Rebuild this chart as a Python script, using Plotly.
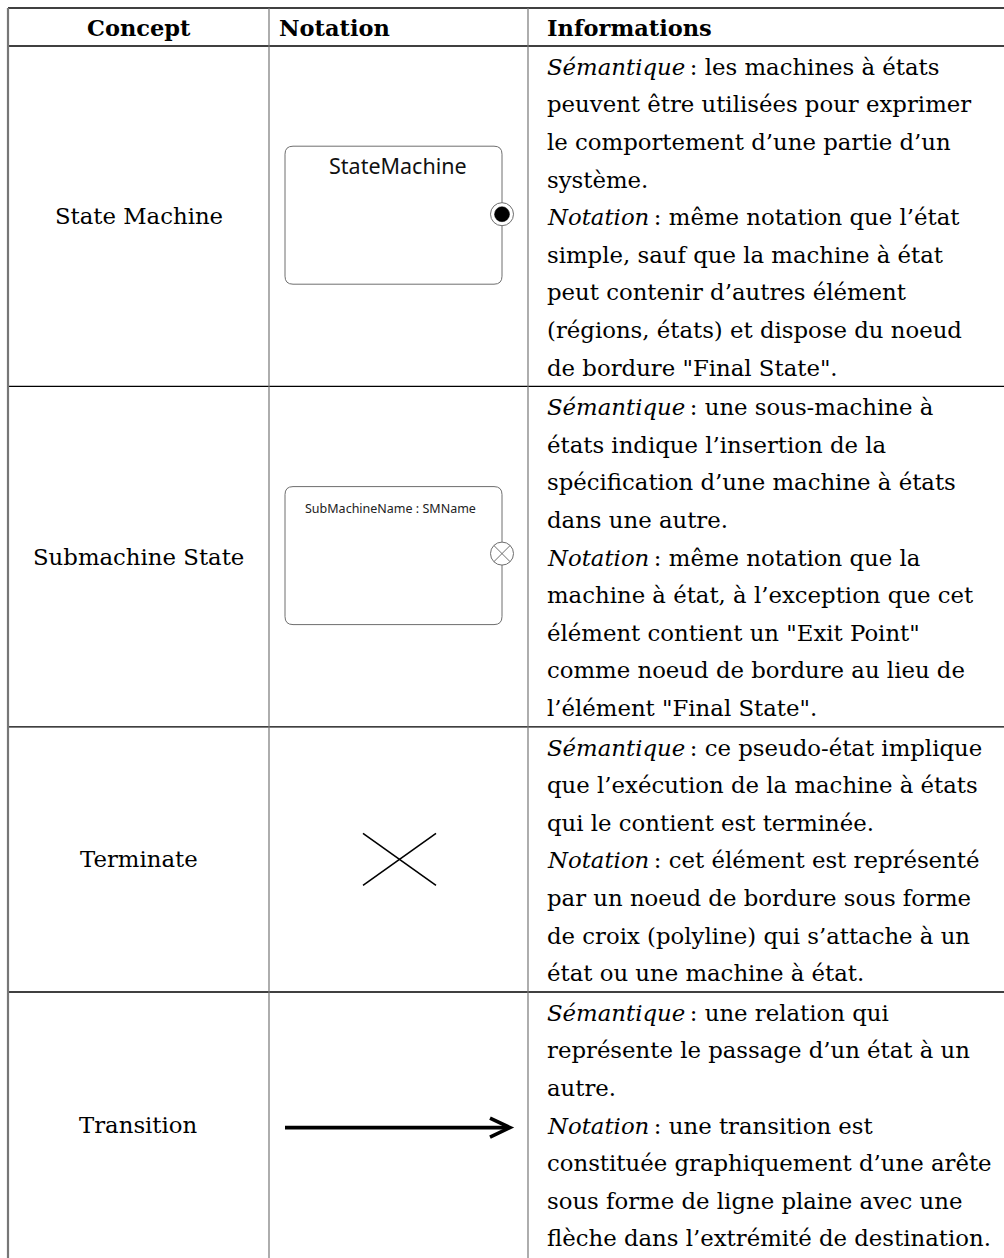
import plotly.graph_objects as go

# ---------------- data ----------------
headers = ["Concept", "Notation", "Informations"]
concepts = ["State Machine", "Submachine State", "Terminate", "Transition"]
notation_kinds = ["state_machine", "submachine", "terminate", "transition"]
notation_labels = ["StateMachine", "SubMachineName : SMName", "", ""]

info_row1 = [
    "<i>Sémantique</i>\u2009: les machines à états",
    "peuvent être utilisées pour exprimer",
    "le comportement d’une partie d’un",
    "système.",
    "<i>Notation</i>\u2009: même notation que l’état",
    "simple, sauf que la machine à état",
    "peut contenir d’autres élément",
    "(régions, états) et dispose du noeud",
    "de bordure \"Final State\".",
]
info_row2 = [
    "<i>Sémantique</i>\u2009: une sous-machine à",
    "états indique l’insertion de la",
    "spécification d’une machine à états",
    "dans une autre.",
    "<i>Notation</i>\u2009: même notation que la",
    "machine à état, à l’exception que cet",
    "élément contient un \"Exit Point\"",
    "comme noeud de bordure au lieu de",
    "l’élément \"Final State\".",
]
info_row3 = [
    "<i>Sémantique</i>\u2009: ce pseudo-état implique",
    "que l’exécution de la machine à états",
    "qui le contient est terminée.",
    "<i>Notation</i>\u2009: cet élément est représenté",
    "par un noeud de bordure sous forme",
    "de croix (polyline) qui s’attache à un",
    "état ou une machine à état.",
]
info_row4 = [
    "<i>Sémantique</i>\u2009: une relation qui",
    "représente le passage d’un état à un",
    "autre.",
    "<i>Notation</i>\u2009: une transition est",
    "constituée graphiquement d’une arête",
    "sous forme de ligne plaine avec une",
    "flèche dans l’extrémité de destination.",
]
info_rows = [info_row1, info_row2, info_row3, info_row4]

# ---------------- layout constants (page pixel coordinates) ----------------
W, H = 1004, 1258
X_LEFT, X_C1, X_C2, X_RIGHT = 8, 269, 528, 1004
Y_TOP, Y_HEAD = 8, 46
LINE_H, PAD = 37.6, 2
SERIF = "DejaVu Serif"
SANS = "Noto Sans"
FS = 22.8
FS_HEAD = 22.5

# row edges from line counts
edges = [Y_HEAD]
for lines in info_rows:
    edges.append(edges[-1] + len(lines) * LINE_H + PAD)

fig = go.Figure()
shapes = []
ann = []

def hline(y, color="black", w=1.3):
    shapes.append(dict(type="line", x0=X_LEFT, x1=X_RIGHT + 5, y0=y, y1=y,
                       line=dict(color=color, width=w), layer="above"))

def vline(x, y0, y1, color="#777", w=1.2):
    shapes.append(dict(type="line", x0=x, x1=x, y0=y0, y1=y1,
                       line=dict(color=color, width=w), layer="above"))

# table grid
hline(Y_TOP)
hline(Y_HEAD)
for e in edges[1:-1]:
    hline(e)
vline(X_LEFT, Y_TOP, H + 5, w=2.2)
vline(X_C1, Y_TOP, H + 5)
vline(X_C2, Y_TOP, H + 5)

# headers
hy = (Y_TOP + Y_HEAD) / 2 + 1
hfont = dict(family=SERIF, size=FS_HEAD, color="black")
ann.append(dict(x=(X_LEFT + X_C1) / 2, y=hy, text="<b>" + headers[0] + "</b>",
                xanchor="center", font=hfont))
ann.append(dict(x=X_C1 + 8, y=hy, text="<b>" + headers[1] + "</b>", xanchor="left",
                font=hfont))
ann.append(dict(x=X_C2 + 17, y=hy, text="<b>" + headers[2] + "</b>", xanchor="left",
                font=hfont))


def rounded_rect(x0, y0, x1, y1, r):
    return (f"M{x0+r},{y0} L{x1-r},{y0} Q{x1},{y0} {x1},{y0+r} "
            f"L{x1},{y1-r} Q{x1},{y1} {x1-r},{y1} L{x0+r},{y1} "
            f"Q{x0},{y1} {x0},{y1-r} L{x0},{y0+r} Q{x0},{y0} {x0+r},{y0} Z")

GRAY = "#6e6e6e"
for i, (concept, kind, label, lines) in enumerate(
        zip(concepts, notation_kinds, notation_labels, info_rows)):
    top, bot = edges[i], edges[i + 1]
    cy = (top + bot) / 2
    # concept label
    ann.append(dict(x=(X_LEFT + X_C1) / 2, y=cy, text=concept, xanchor="center"))
    # info text lines
    for j, t in enumerate(lines):
        ann.append(dict(x=X_C2 + 17, y=top + PAD / 2 + LINE_H * (j + 0.5) + 1,
                        text=t, xanchor="left"))
    # notation diagram
    bx0, bx1 = 285, 502
    if kind in ("state_machine", "submachine"):
        by0, by1 = cy - 70, cy + 68
        shapes.append(dict(type="path", path=rounded_rect(bx0, by0, bx1, by1, 8),
                           line=dict(color=GRAY, width=1), fillcolor="white"))
        if kind == "state_machine":
            ann.append(dict(x=(bx0 + bx1) / 2 + 4, y=by0 + 19, text=label,
                            xanchor="center", font=dict(family=SANS, size=21.5, color="#111")))
            r_out, r_in = 11.5, 7.5
            sy = by0 + 68
            shapes.append(dict(type="circle", x0=bx1 - r_out, x1=bx1 + r_out,
                               y0=sy - r_out, y1=sy + r_out,
                               line=dict(color=GRAY, width=1), fillcolor="white"))
            shapes.append(dict(type="circle", x0=bx1 - r_in, x1=bx1 + r_in,
                               y0=sy - r_in, y1=sy + r_in,
                               line=dict(color="black", width=0.5), fillcolor="black"))
        else:
            ann.append(dict(x=bx0 + 18, y=by0 + 22, text=label, xanchor="left",
                            font=dict(family=SANS, size=12.5, color="#222")))
            r = 11.5
            ey = by0 + 67
            shapes.append(dict(type="circle", x0=bx1 - r, x1=bx1 + r, y0=ey - r, y1=ey + r,
                               line=dict(color=GRAY, width=1), fillcolor="white"))
            d = r * 0.7071
            shapes.append(dict(type="line", x0=bx1 - d, x1=bx1 + d, y0=ey - d, y1=ey + d,
                               line=dict(color=GRAY, width=1)))
            shapes.append(dict(type="line", x0=bx1 - d, x1=bx1 + d, y0=ey + d, y1=ey - d,
                               line=dict(color=GRAY, width=1)))
    elif kind == "terminate":
        cx = 399.5
        shapes.append(dict(type="line", x0=cx - 36.5, x1=cx + 36.5, y0=cy - 26, y1=cy + 26,
                           line=dict(color="black", width=1.6)))
        shapes.append(dict(type="line", x0=cx - 36.5, x1=cx + 36.5, y0=cy + 26, y1=cy - 26,
                           line=dict(color="black", width=1.6)))
    elif kind == "transition":
        ay = cy + 3
        shapes.append(dict(type="line", x0=bx0, x1=508, y0=ay, y1=ay,
                           line=dict(color="black", width=3.6)))
        shapes.append(dict(type="path", path=f"M490,{ay-9.5} L510,{ay} L490,{ay+9.5}",
                           line=dict(color="black", width=3.6)))

for a in ann:
    a.setdefault("font", dict(family=SERIF, size=FS, color="black"))
    a.update(showarrow=False, yanchor="middle", xref="x", yref="y")

for s in shapes:
    s.setdefault("xref", "x")
    s.setdefault("yref", "y")

# axis ranges map data units directly to page pixels (page margin removed below)
fig.update_layout(
    width=W, height=H, margin=dict(l=0, r=0, t=0, b=0),
    paper_bgcolor="white", plot_bgcolor="white",
    xaxis=dict(range=[0, W], visible=False, fixedrange=True),
    yaxis=dict(range=[H, 0], visible=False, fixedrange=True),
    shapes=shapes, annotations=ann, showlegend=False,
)
fig.write_html(
    "out.html",
    config={"displayModeBar": False, "staticPlot": True},
    post_script="document.body.style.margin='0';document.body.style.overflow='hidden';",
)
